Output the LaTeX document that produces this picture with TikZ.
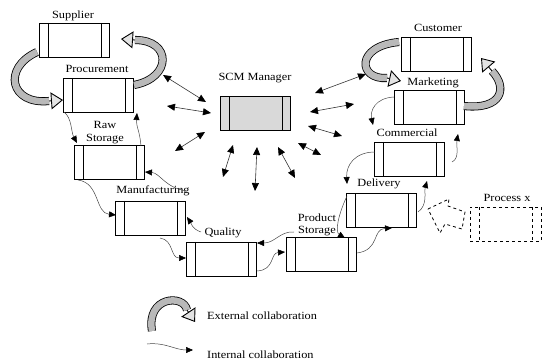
\documentclass[tikz,border=0pt]{standalone}
\usepackage{fontspec}
\setmainfont{Liberation Serif}[FakeStretch=1.12]
\usetikzlibrary{arrows.meta}
\begin{document}
\begin{tikzpicture}[x=1pt,y=-1pt,
  lbl/.style={font=\fontsize{11}{13}\selectfont, anchor=base, inner sep=0pt},
  pbox/.style={draw, line width=0.8pt, minimum width=70pt, minimum height=34pt, inner sep=0pt,
    path picture={\draw[line width=0.8pt]
      ([xshift=9pt]path picture bounding box.north west) -- ([xshift=9pt]path picture bounding box.south west)
      ([xshift=-8pt]path picture bounding box.north east) -- ([xshift=-8pt]path picture bounding box.south east);}},
  dbox/.style={draw, dashed, line width=0.8pt, minimum width=71pt, minimum height=34pt, inner sep=0pt,
    path picture={\draw[dashed, line width=0.8pt]
      ([xshift=9pt]path picture bounding box.north west) -- ([xshift=9pt]path picture bounding box.south west)
      ([xshift=-9pt]path picture bounding box.north east) -- ([xshift=-9pt]path picture bounding box.south east);}},
  fatbody/.style={draw=black, line width=0.8pt, double=gray!55, double distance=6.5pt},
  fathead/.style={line width=0.9pt, -{Triangle[length=12pt,width=17pt,fill=gray!22]}},
  intarrow/.style={draw=gray!55!black, line width=0.5pt, -{Triangle[length=7pt,width=6pt,color=black]}},
  scmarrow/.style={draw=gray!40!black, line width=0.6pt,
    {Triangle[length=8pt,width=7pt,color=black]}-{Triangle[length=8pt,width=7pt,color=black]}}]
\useasboundingbox (0,0) rectangle (543,363);

% process boxes
\node[pbox] (sup) at (74,40) {};
\node[pbox] (pro) at (98,95) {};
\node[pbox] (raw) at (109,162) {};
\node[pbox] (man) at (150.5,218) {};
\node[pbox] (qua) at (221,259) {};
\node[pbox] (pst) at (321,254.5) {};
\node[pbox] (del) at (381,210.5) {};
\node[pbox] (com) at (409.5,159) {};
\node[pbox] (mar) at (429,107.5) {};
\node[pbox] (cus) at (436,54) {};
\node[pbox, fill=gray!30] (scm) at (255.5,113.5) {};
\node[dbox] (prx) at (505.5,224) {};

% labels
\node[lbl] (tsup) at (73,19) {Supplier};
\node[lbl] (tpro) at (97,73) {Procurement};
\node[lbl] (traw1) at (105,129) {Raw};
\node[lbl] (traw2) at (105,142) {Storage};
\node[lbl] (tman) at (153,194) {Manufacturing};
\node[lbl] (tqua) at (223,236) {Quality};
\node[lbl] (tpst1) at (317,222) {Product};
\node[lbl] (tpst2) at (317,234) {Storage};
\node[lbl] (tdel) at (379,187) {Delivery};
\node[lbl] (tcom) at (407,136.5) {Commercial};
\node[lbl] (tmar) at (433,86) {Marketing};
\node[lbl] (tcus) at (438,32) {Customer};
\node[lbl] (tscm) at (255,81) {SCM Manager};
\node[lbl] (tprx) at (507,202) {Process x};

% external collaboration (fat arrows)
\draw[fatbody] (37,52) .. controls (2,68) and (10,105) .. (49,101);
\draw[fathead] (49,101) -- (63,100);
\draw[fatbody] (134,85) .. controls (172,78) and (172,40) .. (135,40);
\draw[fathead] (135,40) -- (121,39);
\draw[fatbody] (399,42) .. controls (355,46) and (358,80) .. (387,78);
\draw[fathead] (387,78) -- (401,81);
\draw[fatbody] (464,106) .. controls (502,110) and (508,88) .. (492,71);
\draw[fathead] (492,71) -- (481,58);

% internal collaboration
\coordinate (i1a) at (64,112);   \coordinate (i1b) at (77,143);
\coordinate (i2a) at (141,146);  \coordinate (i2b) at (137,113);
\coordinate (i3a) at (78,180);   \coordinate (i3b) at (116,215);
\coordinate (i4a) at (187,191);  \coordinate (i4b) at (145,172);
\coordinate (i5a) at (160,238);  \coordinate (i5b) at (186,258);
\coordinate (i6a) at (201,232);  \coordinate (i6b) at (187,217);
\coordinate (i7a) at (294,232);  \coordinate (i7b) at (257,243);
\coordinate (i8a) at (257,271);  \coordinate (i8b) at (285,252);
\coordinate (i9a) at (357,253);  \coordinate (i9b) at (392,228);
\coordinate (i10a) at (347,196); \coordinate (i10b) at (345,238);
\coordinate (i11a) at (418,212); \coordinate (i11b) at (427,181);
\coordinate (i12a) at (375,152); \coordinate (i12b) at (347,184);
\coordinate (i13a) at (452,162); \coordinate (i13b) at (458,134);
\coordinate (i14a) at (394,97);  \coordinate (i14b) at (373,125);
\draw[intarrow] (i1a) .. controls (72,118) and (71,132) .. (i1b);
\draw[intarrow] (i2a) .. controls (140,132) and (136,126) .. (i2b);
\draw[intarrow] (i3a) .. controls (100,183) and (95,213) .. (i3b);
\draw[intarrow] (i4a) .. controls (165,188) and (160,173) .. (i4b);
\draw[intarrow] (i5a) .. controls (174,240) and (170,258) .. (i5b);
\draw[intarrow] (i6a) .. controls (192,229) and (191,223) .. (i6b);
\draw[intarrow] (i7a) .. controls (280,231) and (275,243) .. (i7b);
\draw[intarrow] (i8a) .. controls (275,270) and (270,253) .. (i8b);
\draw[intarrow] (i9a) .. controls (380,250) and (372,229) .. (i9b);
\draw[intarrow] (i10a) .. controls (338,215) and (335,232) .. (i10b);
\draw[intarrow] (i11a) .. controls (428,205) and (424,192) .. (i11b);
\draw[intarrow] (i12a) .. controls (355,152) and (346,165) .. (i12b);
\draw[intarrow] (i13a) .. controls (460,158) and (456,146) .. (i13b);
\draw[intarrow] (i14a) .. controls (375,98) and (370,111) .. (i14b);

% SCM manager links
\coordinate (s1a) at (163,75);  \coordinate (s1b) at (206,102);
\coordinate (s2a) at (167,106); \coordinate (s2b) at (211,113);
\coordinate (s3a) at (175,151); \coordinate (s3b) at (205,132);
\coordinate (s4a) at (223,177); \coordinate (s4b) at (233,145);
\coordinate (s5a) at (255,191); \coordinate (s5b) at (257,147);
\coordinate (s6a) at (278,147); \coordinate (s6b) at (295,178);
\coordinate (s7a) at (298,143); \coordinate (s7b) at (321,155);
\coordinate (s8a) at (308,126); \coordinate (s8b) at (342,136);
\coordinate (s9a) at (310,112); \coordinate (s9b) at (354,104);
\coordinate (s10a) at (315,93); \coordinate (s10b) at (366,74);
\foreach \k in {1,...,10} \draw[scmarrow] (s\k a) -- (s\k b);

% process x (dashed block arrow)
\draw[dashed, line width=0.8pt] (428,209) -- (449,199) -- (448,206) -- (465,212)
  -- (462,229) -- (445,224) -- (440,233) -- cycle;

% legend
\draw[fatbody] (152,331) .. controls (146,296) and (184,294) .. (187,310);
\draw[fathead] (187,310) -- (195,322);
\node[lbl, anchor=base west] (lext) at (207,319) {External collaboration};
\coordinate (l1a) at (147,344); \coordinate (l1b) at (193,350);
\draw[intarrow] (l1a) .. controls (165,342) and (175,350) .. (l1b);
\node[lbl, anchor=base west] (lint) at (207,358) {Internal collaboration};
\end{tikzpicture}
\end{document}
